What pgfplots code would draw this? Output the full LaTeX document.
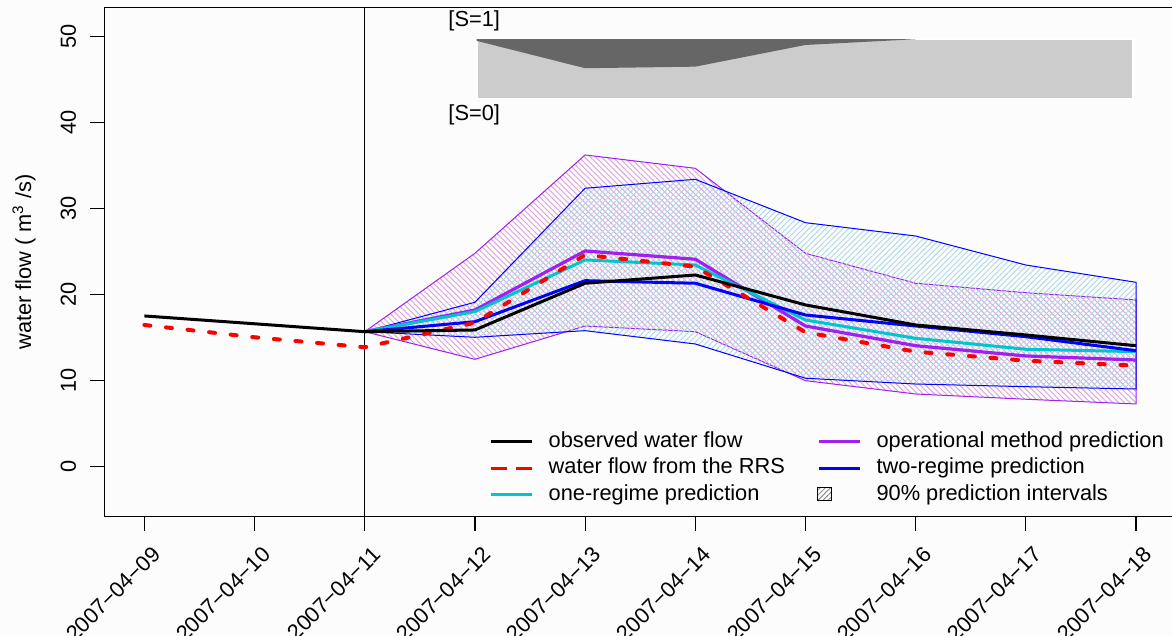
\documentclass[border=0pt]{standalone}
\usepackage{fontspec}
\setmainfont{Liberation Sans}
\usepackage{pgfplots}
\pgfplotsset{compat=1.18}
\usetikzlibrary{patterns.meta}
\definecolor{rpurple}{HTML}{A020F0}
\definecolor{rcyan}{HTML}{00C5CD}
\definecolor{rplum}{HTML}{DDA0DD}
\definecolor{rlblue}{HTML}{ADD8E6}
\definecolor{bgc}{HTML}{FCFCFC}
\definecolor{lgray}{HTML}{CCCCCC}
\definecolor{dgray}{HTML}{666666}
\begin{document}
\fontsize{10.9}{13}\selectfont
\begin{tikzpicture}
\useasboundingbox (0,0) rectangle (586pt,318pt);
\fill[bgc] (0,0) rectangle (586pt,318pt);
\begin{axis}[
  at={(52.25pt,59.65pt)}, anchor=south west,
  scale only axis, width=535.7pt, height=254.7pt,
  xmin=-0.362, xmax=9.362, ymin=-5.8, ymax=53.4,
  axis line style={line width=0.65pt},
  xtick={0,...,9},
  xticklabels={2007−04−09,2007−04−10,2007−04−11,2007−04−12,2007−04−13,2007−04−14,2007−04−15,2007−04−16,2007−04−17,2007−04−18},
  ytick={0,10,...,50},
  /pgf/number format/assume math mode=true,
  tick align=outside, major tick length=7pt,
  tick style={black, line width=0.6pt},
  xtick pos=bottom, ytick pos=left,
  xticklabel style={inner sep=0pt, anchor=north east, rotate=45, xshift=-2.65pt, yshift=-7.25pt},
  yticklabel style={inner sep=0pt, anchor=base, rotate=90, yshift=7.35pt},
  ylabel={water flow ( m\textsuperscript{3} /s)},
  every axis y label/.style={at={(axis description cs:-0.0751,0.5)}, rotate=90, anchor=center},
  legend columns=2, legend cell align=left,
  legend image code/.code={\draw[#1, line cap=butt] (0pt,0pt) -- (20.5pt,0pt);},
  legend style={at={(axis cs:3.132,4.13)}, anchor=north west, draw=none, fill=none,
    inner sep=0pt, row sep=3.1pt,
    nodes={inner sep=0pt, text height=7.85pt, text depth=2.3pt},
    /tikz/every odd column/.append style={column sep=7.4pt},
    /tikz/every even column/.append style={column sep=15.95pt}},
]
% inset (state probabilities)
\addplot[fill=lgray, draw=white, line width=1pt, forget plot] coordinates {(3.015,42.75) (8.975,42.75) (8.975,49.69) (3.015,49.69)} -- cycle;
\addplot[fill=dgray, draw=none, forget plot] coordinates {(3.015,49.69) (3.015,49.5) (4,46.32) (5,46.5) (6,49.02) (7,49.69)} -- cycle;
\node[anchor=west, inner sep=0pt] at (axis cs:2.756,51.85) {[S=1]};
\node[anchor=west, inner sep=0pt] at (axis cs:2.756,40.89) {[S=0]};
% vertical line
\addplot[black, line width=0.6pt, forget plot] coordinates {(2,-5.8) (2,53.4)};
% prediction intervals
\addplot[draw=rpurple, line width=0.5pt, pattern={Lines[angle=-45,distance=2pt,line width=0.45pt]}, pattern color=rplum, forget plot]
  coordinates {(2,15.70)(3,24.81)(4,36.24)(5,34.69)(6,24.81)(7,21.33)(8,20.23)(9,19.39)
               (9,7.30)(8,7.85)(7,8.46)(6,10.01)(5,15.70)(4,16.36)(3,12.49)} -- cycle;
\addplot[draw=blue, line width=0.5pt, pattern={Lines[angle=45,distance=2pt,line width=0.45pt]}, pattern color=rlblue, forget plot]
  coordinates {(2,15.70)(3,19.12)(4,32.37)(5,33.41)(6,28.37)(7,26.82)(8,23.45)(9,21.44)
               (9,9.04)(8,9.31)(7,9.62)(6,10.29)(5,14.27)(4,15.82)(3,15.05)} -- cycle;
% predictions
\addplot[rpurple, line width=1.6pt, line join=round, forget plot] coordinates {(2,15.70)(3,18.22)(4,25.08)(5,24.12)(6,16.36)(7,14.07)(8,12.88)(9,12.41)};
\addplot[rcyan, line width=1.5pt, line join=round, forget plot] coordinates {(2,15.70)(3,18.03)(4,24.04)(5,23.45)(6,17.06)(7,14.93)(8,13.66)(9,13.38)};
\addplot[blue, line width=1.5pt, line join=round, forget plot] coordinates {(2,15.70)(3,16.86)(4,21.63)(5,21.33)(6,17.64)(7,16.36)(8,15.12)(9,13.49)};
\addplot[red, line width=2pt, line cap=round, dash pattern=on 3pt off 7.85pt, forget plot] coordinates {(0,16.48)(1,15.05)(2,13.89)(3,16.75)(4,24.62)(5,23.26)(6,15.63)(7,13.38)(8,12.33)(9,11.75)};
\addplot[black, line width=1.5pt, line join=round, forget plot] coordinates {(0,17.53)(1,16.62)(2,15.70)(3,15.90)(4,21.33)(5,22.29)(6,18.81)(7,16.48)(8,15.32)(9,14.07)};
% legend
\addlegendimage{black, line width=1.5pt}
\addlegendentry{observed water flow}
\addlegendimage{rpurple, line width=1.5pt}
\addlegendentry{operational method prediction}
\addlegendimage{red, line width=1.5pt, dash pattern=on 8pt off 4.5pt}
\addlegendentry{water flow from the RRS}
\addlegendimage{blue, line width=1.5pt}
\addlegendentry{two-regime prediction}
\addlegendimage{rcyan, line width=1.5pt}
\addlegendentry{one-regime prediction}
\addlegendimage{legend image code/.code={\draw[black, line width=0.5pt, pattern={Lines[angle=45,distance=1.8pt,line width=0.4pt]}, pattern color=gray] (-1pt,-3pt) rectangle (6pt,3.5pt);}}
\addlegendentry{90\% prediction intervals}
\end{axis}
\end{tikzpicture}
\end{document}
